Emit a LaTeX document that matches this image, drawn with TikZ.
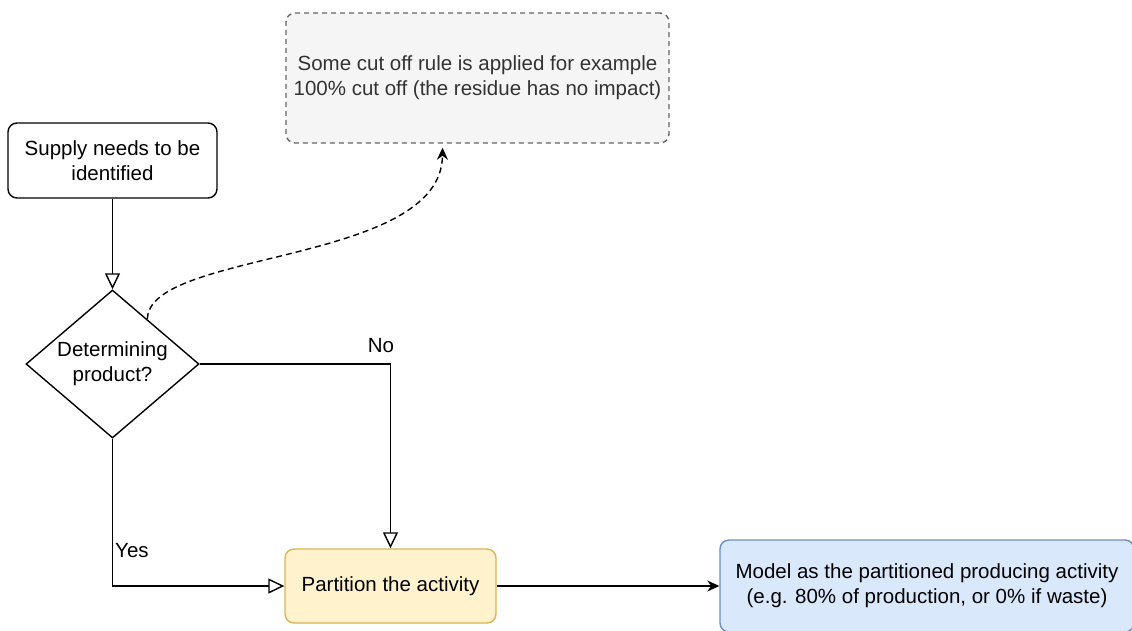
\documentclass[tikz,border=0pt]{standalone}
\usepackage{fontspec}
\setmainfont{Liberation Sans}
\usetikzlibrary{shapes.geometric,arrows.meta,calc}
\definecolor{notefill}{HTML}{F5F5F5}
\definecolor{noteline}{HTML}{666666}
\definecolor{notetext}{HTML}{333333}
\definecolor{partfill}{HTML}{FFF2CC}
\definecolor{partline}{HTML}{D6B656}
\definecolor{modelfill}{HTML}{DAE8FC}
\definecolor{modelline}{HTML}{6C8EBF}
\def\fs{\fontsize{20.5}{25}\selectfont}
\tikzset{
  box/.style={draw, rounded corners=9pt, line width=1.4pt, align=center, font=\fs, inner sep=0pt},
  flow/.style={line width=1.4pt, -{Triangle[open,length=16pt,width=15pt]}},
  lbl/.style={font=\fs, inner sep=1pt},
}

\begin{document}
\begin{tikzpicture}[x=1pt,y=-1pt]
            \useasboundingbox (0,0) rectangle (1132,630);
            % boxes
            \node[box, minimum width=209pt, minimum height=75pt] (supply) at (112.5,160.5) {Supply needs to be\\identified};
            \node[draw, diamond, aspect=1.17, minimum width=173pt, minimum height=148pt, inner sep=0pt,
                  line width=1.4pt, align=center, font=\fs] (det) at (112.5,364) {Determining\\product?};
            \node[box, dashed, dash pattern=on 5pt off 4pt, draw=noteline, fill=notefill, text=notetext,
                  minimum width=383pt, minimum height=130pt] (note) at (477.5,78)
                  {Some cut off rule is applied for example\\100\% cut off (the residue has no impact)};
            \node[box, draw=partline, fill=partfill, minimum width=211pt, minimum height=74pt] (part) at (390.5,586) {Partition the activity};
            \node[box, draw=modelline, fill=modelfill, minimum width=414pt, minimum height=92pt] (model) at (927,586)
                  {Model as the partitioned producing activity\\(e.g. 80\% of production, or 0\% if waste)};
            % connectors
            \coordinate (cstart) at ($(det.north)!0.4!(det.east)$);
            \coordinate (ctip) at ([xshift=-35pt,yshift=-4pt]note.south);
            \draw[flow] (supply) -- (det);
            \draw[flow] (det.east) -| node[lbl, pos=0.475, above=10pt]{No} (part.north);
            \draw[flow] (det.south) |- node[lbl, pos=0.378, right=1pt]{Yes} (part.west);
            \draw[line width=1.4pt, -{Stealth[length=12pt,width=11pt]}] (part) -- (model);
            \draw[line width=1.4pt, dash pattern=on 6pt off 4pt, -{Stealth[length=12pt,width=11pt]}]
                  (cstart) .. controls (148,250) and (442,265) .. (ctip);
        \end{tikzpicture}
\end{document}
